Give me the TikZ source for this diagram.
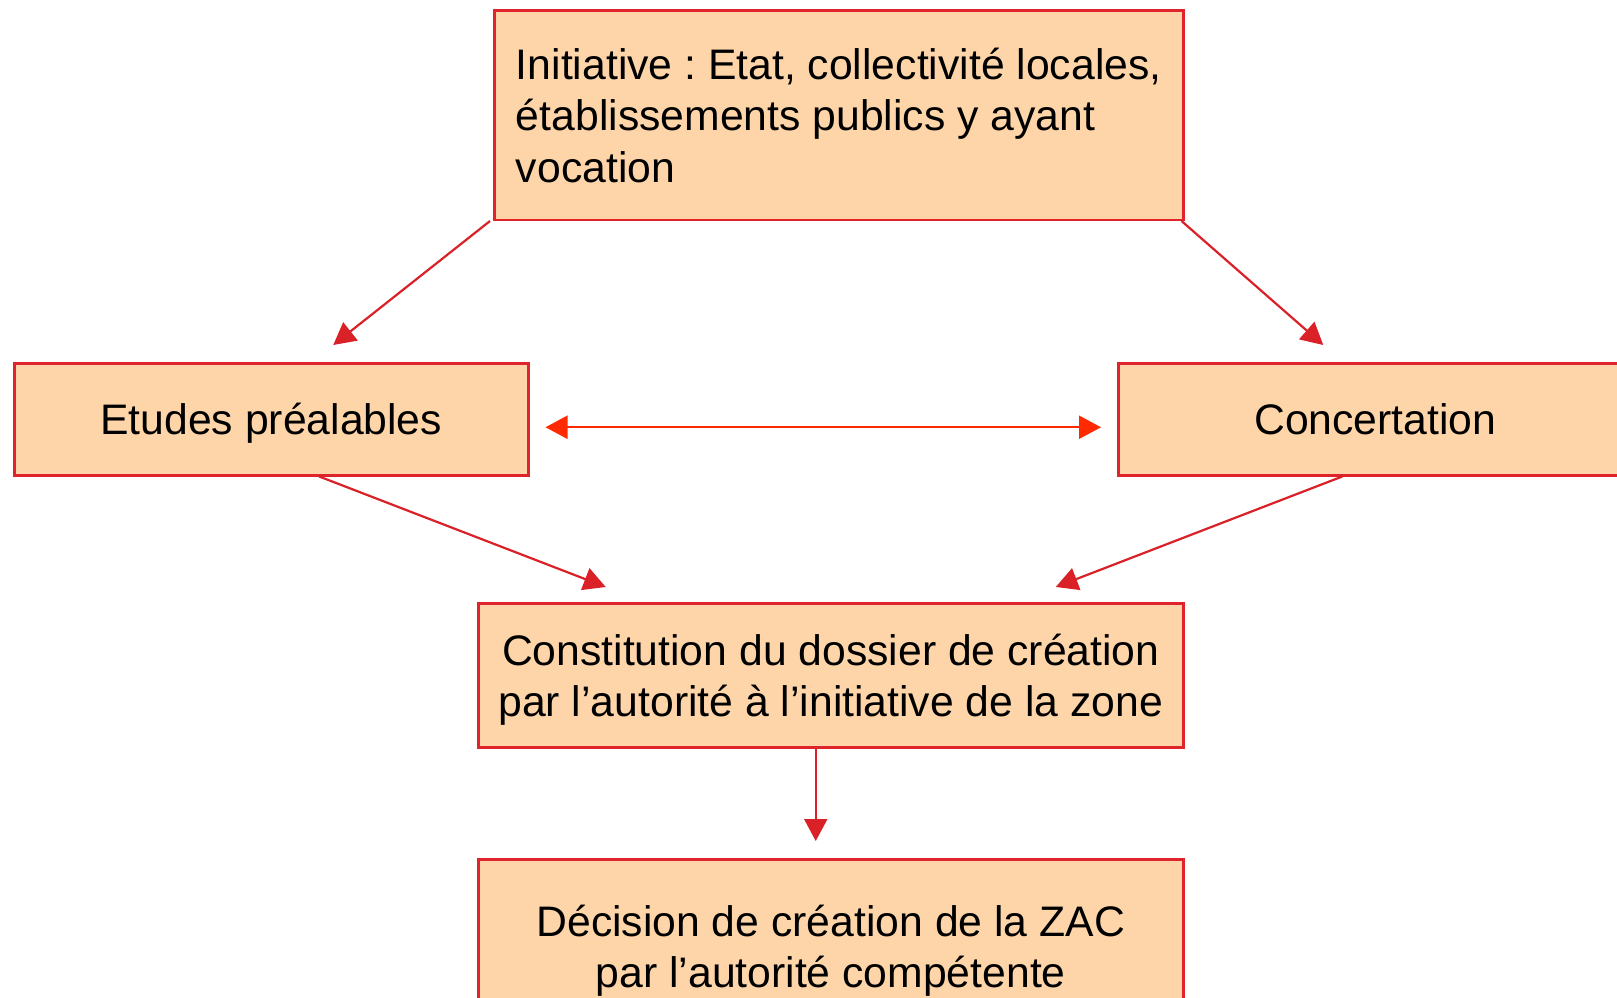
\documentclass[tikz,border=0pt]{standalone}
\usepackage{fontspec}
\setmainfont{Liberation Sans}
\frenchspacing
\usetikzlibrary{arrows.meta,calc}
\definecolor{boxfill}{HTML}{FED5A9}
\definecolor{boxline}{HTML}{E0242B}
\definecolor{arrred}{HTML}{DA2128}
\definecolor{arrorange}{HTML}{FF2A00}
\tikzset{
  box/.style={draw=boxline, line width=2.5pt, fill=boxfill, inner sep=0pt,
    font=\fontsize{42.7}{51.3}\selectfont, text depth=0pt, anchor=north west},
  conn/.style={draw=arrred, line width=2.2pt,
    -{Triangle[length=22pt,width=23pt]}},
  twoway/.style={draw=arrorange, line width=2.2pt,
    {Triangle[length=22pt,width=23pt]}-{Triangle[length=22pt,width=23pt]}}
}
\begin{document}
\begin{tikzpicture}[x=1pt,y=-1pt]
\useasboundingbox (0,0) rectangle (1617,998);
\fill[white] (0,0) rectangle (1617,998);
\clip (0,0) rectangle (1617,998);

\node[box, minimum width=689pt, minimum height=209pt, align=left] (top) at (493,9.5)
  {Initiative : Etat, collectivité locales,\\établissements publics y ayant\\vocation};
\node[box, minimum width=514pt, minimum height=112pt] (etudes) at (13,362) {Etudes préalables};
\node[box, minimum width=514pt, minimum height=112pt] (concert) at (1117,362) {Concertation};
\node[box, minimum width=705pt, minimum height=144pt, align=center] (constit) at (477,602)
  {Constitution du dossier de création\\par l’autorité à l’initiative de la zone};
\node[box, minimum width=705pt, minimum height=174pt, align=center] (decision) at (477,858)
  {Décision de création de la ZAC\\par l’autorité compétente};

\coordinate (e1) at ($(etudes.north)+(62,-17)$);
\coordinate (c1) at ($(concert.north)+(-52,-17)$);
\coordinate (k1) at ($(constit.north)+(-225,-15)$);
\coordinate (k2) at ($(constit.north)+(225,-15)$);
\coordinate (d1) at ($(decision.north)+(-15,-17)$);

\draw[conn] ($(top.south west)+(-3,0)$) -- (e1);
\draw[conn] ($(top.south east)+(-3,0)$) -- (c1);
\draw[twoway] ($(etudes.east)+(16,8)$) -- ($(concert.west)+(-16,8)$);
\draw[conn] ($(etudes.south)+(48,0)$) -- (k1);
\draw[conn] ($(concert.south)+(-33,0)$) -- (k2);
\draw[conn] ($(constit.south)+(-15,0)$) -- (d1);
\end{tikzpicture}
\end{document}
